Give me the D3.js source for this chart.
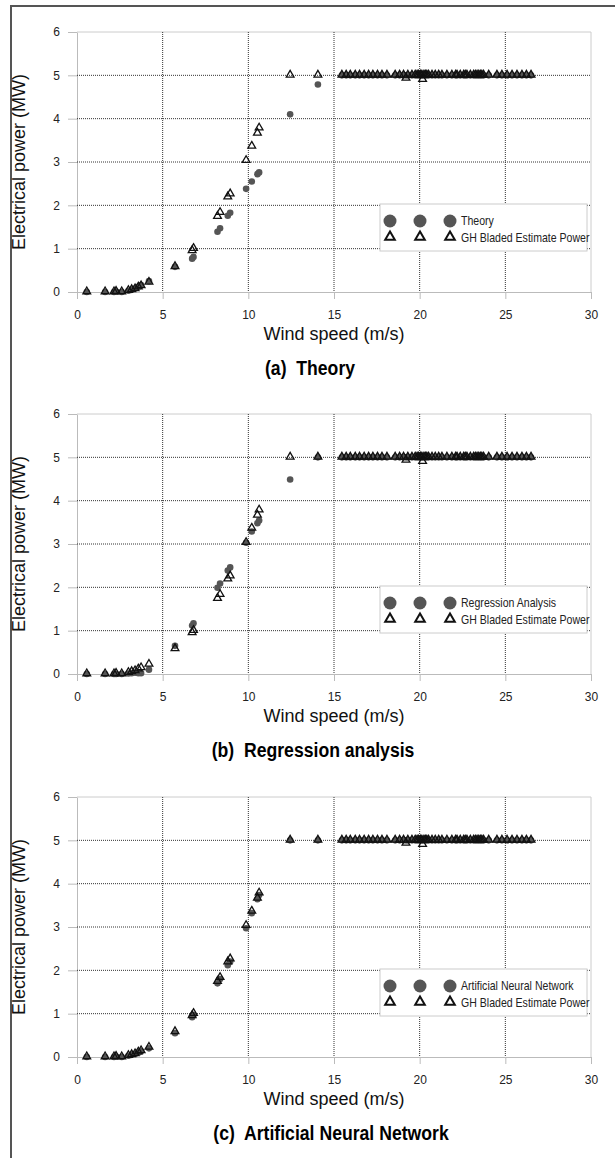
<!DOCTYPE html>
<html>
<head>
<meta charset="utf-8">
<script src="https://cdn.jsdelivr.net/npm/d3@7"></script>
<style>
  body { margin: 0; background: #fff; }
  text { font-family: Arial, "Liberation Sans", sans-serif; }
</style>
</head>
<body>
<svg id="chart" width="615" height="1158"></svg>
<script>
// wind speed (m/s) of every measured sample, shared by all series
const windSpeed = [
  0.57, 1.64, 2.16, 2.28, 2.61, 3.0, 3.19, 3.39, 3.58, 3.74, 4.2,
  5.72, 6.72, 6.8, 8.2, 8.35, 8.8, 8.94, 9.87, 10.2, 10.53, 10.63, 12.44, 14.06,
  15.46, 15.71, 15.95, 16.24, 16.49, 16.76, 17.02, 17.27, 17.54, 17.8, 18.09,
  18.57, 18.83, 19.06, 19.2, 19.31, 19.55, 19.74, 19.85, 19.94, 20.05, 20.13, 20.17,
  20.25, 20.33, 20.42, 20.52, 20.72, 20.91, 21.11, 21.3, 21.59, 21.88, 22.1, 22.18,
  22.37, 22.57, 22.66, 22.76, 22.96, 23.15, 23.25, 23.35, 23.45, 23.54, 23.63, 23.73,
  24.03, 24.51, 24.8, 25.1, 25.39, 25.68, 25.97, 26.23, 26.5
];

const highCount = windSpeed.length - 24;

// GH Bladed estimate power (MW)
const ghBladed = [
  0, 0, 0, 0.01, 0, 0.03, 0.05, 0.07, 0.11, 0.14, 0.22,
  0.58, 0.95, 1.0, 1.74, 1.83, 2.19, 2.26, 3.03, 3.36, 3.66, 3.78, 5.0, 5.0,
  5, 5, 5, 5, 5, 5, 5, 5, 5, 5, 5,
  5, 5, 5, 4.93, 5, 5, 5, 5, 5, 5, 5, 4.9,
  5, 5, 5, 5, 5, 5, 5, 5, 5, 5, 5, 5,
  5, 5, 5, 5, 5, 5, 5, 5, 5, 5, 5, 5,
  5, 5, 5, 5, 5, 5, 5, 5, 5
];

// model outputs (MW)
const theory = [
  0, 0, 0, 0.01, 0, 0.03, 0.05, 0.08, 0.12, 0.16, 0.25,
  0.58, 0.77, 0.81, 1.39, 1.47, 1.76, 1.83, 2.38, 2.55, 2.72, 2.76, 4.1, 4.79
];
const regression = [
  0, 0, 0, 0, 0, 0.01, 0.02, 0.03, 0.02, 0.02, 0.1,
  0.65, 1.12, 1.17, 1.99, 2.09, 2.39, 2.46, 3.03, 3.29, 3.48, 3.54, 4.49, 5.0
];
const ann = [
  0, 0, 0, 0.01, 0, 0.03, 0.05, 0.07, 0.1, 0.13, 0.2,
  0.55, 0.92, 0.97, 1.7, 1.8, 2.12, 2.2, 2.97, 3.32, 3.64, 3.74, 5.0, 5.0
];
// above rated speed every model gives 5 MW
const ratedPower = new Array(highCount).fill(5);

const xTicks = [0, 5, 10, 15, 20, 25, 30];
const yTicks = [0, 1, 2, 3, 4, 5, 6];

const modelNames = ['Theory', 'Regression Analysis', 'Artificial Neural Network'];
const captions = ['(a)  Theory', '(b)  Regression analysis', '(c)  Artificial Neural Network'];
const modelSeries = [theory, regression, ann];

const svg = d3.select('#chart');

// page frame: only left and top edges show in the scan
svg.append('path')
  .attr('d', 'M11,1158V6H615')
  .attr('fill', 'none')
  .attr('stroke', '#555')
  .attr('stroke-width', 2);

const x = d3.scaleLinear().domain([0, 30]).range([77, 591]);
const panelTops = [32, 414, 797];
const captionX = [310, 313, 331];

const triangle = d3.symbol().type(d3.symbolTriangle);

function drawPanel (i) {
  const top = panelTops[i];
  const y = d3.scaleLinear().domain([0, 6]).range([top + 260, top]);
  const g = svg.append('g');

  // axes (light gray, ticks outward)
  const xAxis = g.append('g')
    .attr('transform', `translate(0,${y(0)})`)
    .call(d3.axisBottom(x).tickValues(xTicks).tickSizeInner(7).tickSizeOuter(0).tickPadding(11));
  const yAxis = g.append('g')
    .attr('transform', `translate(${x(0)},0)`)
    .call(d3.axisLeft(y).tickValues(yTicks).tickFormat(d3.format('d'))
      .tickSizeInner(9).tickSizeOuter(0).tickPadding(8));
  [xAxis, yAxis].forEach(a => {
    a.selectAll('path, line').attr('stroke', '#bbb');
    a.selectAll('text').attr('fill', '#222').style('font-size', '12px');
  });

  // plot border top / right
  g.append('line')
    .attr('x1', x(0)).attr('x2', x(30)).attr('y1', y(6)).attr('y2', y(6))
    .attr('stroke', '#ccc');
  g.append('line')
    .attr('x1', x(30)).attr('x2', x(30)).attr('y1', y(6)).attr('y2', y(0))
    .attr('stroke', '#ccc');

  // dotted grid
  g.selectAll('.hgrid').data(yTicks.filter(d => d > 0 && d < 6)).join('line')
    .attr('class', 'hgrid')
    .attr('x1', x(0)).attr('x2', x(30))
    .attr('y1', d => y(d)).attr('y2', d => y(d))
    .attr('stroke', '#333').attr('stroke-dasharray', '1,1');
  g.selectAll('.vgrid').data(xTicks.filter(d => d > 0 && d < 30)).join('line')
    .attr('class', 'vgrid')
    .attr('x1', d => x(d)).attr('x2', d => x(d))
    .attr('y1', y(6)).attr('y2', y(0))
    .attr('stroke', '#333').attr('stroke-dasharray', '1,1');

  // model series (gray dots)
  const model = modelSeries[i].concat(ratedPower);
  g.selectAll('.dot').data(windSpeed).join('circle')
    .attr('class', 'dot')
    .attr('cx', d => x(d))
    .attr('cy', (d, k) => y(model[k]))
    .attr('r', 3.3)
    .attr('fill', '#555');

  // GH Bladed (hollow triangles)
  g.selectAll('.tri').data(windSpeed).join('path')
    .attr('class', 'tri')
    .attr('d', triangle.size(26))
    .attr('transform', (d, k) => `translate(${x(d)},${y(ghBladed[k]) - 0.5})`)
    .attr('fill', 'none')
    .attr('stroke', '#111')
    .attr('stroke-width', 1.3);

  // axis titles
  g.append('text')
    .attr('transform', `translate(25,${top + 130}) rotate(-90)`)
    .attr('text-anchor', 'middle')
    .style('font-size', '18px')
    .attr('fill', '#111')
    .text('Electrical power (MW)');
  g.append('text')
    .attr('x', (x(0) + x(30)) / 2)
    .attr('y', y(0) + 48)
    .attr('text-anchor', 'middle')
    .style('font-size', '18px')
    .attr('fill', '#111')
    .text('Wind speed (m/s)');

  // caption, condensed bold
  g.append('text')
    .attr('transform', `translate(${captionX[i]},${y(0) + 83}) scale(0.84,1)`)
    .attr('text-anchor', 'middle')
    .style('font-weight', 'bold')
    .style('font-size', '21px')
    .attr('fill', '#000')
    .attr('xml:space', 'preserve')
    .text(captions[i]);

  // legend
  const lg = g.append('g').attr('transform', `translate(380,${y(0) - 88})`);
  lg.append('rect')
    .attr('width', 207).attr('height', 47)
    .attr('fill', '#fff')
    .attr('stroke', '#ccc');
  [10, 40, 70].forEach(cx => {
    lg.append('circle').attr('cx', cx).attr('cy', 17).attr('r', 6.5).attr('fill', '#555');
    lg.append('path')
      .attr('d', triangle.size(40))
      .attr('transform', `translate(${cx},33)`)
      .attr('fill', 'none')
      .attr('stroke', '#111')
      .attr('stroke-width', 2);
  });
  const lt = lg.append('g').attr('transform', 'translate(81,0) scale(0.88,1)');
  lt.append('text')
    .attr('y', 21)
    .style('font-size', '12px')
    .attr('fill', '#222')
    .text(modelNames[i]);
  lt.append('text')
    .attr('y', 38)
    .style('font-size', '12px')
    .attr('fill', '#222')
    .text('GH Bladed Estimate Power');
}

[0, 1, 2].forEach(drawPanel);
</script>
</body>
</html>
